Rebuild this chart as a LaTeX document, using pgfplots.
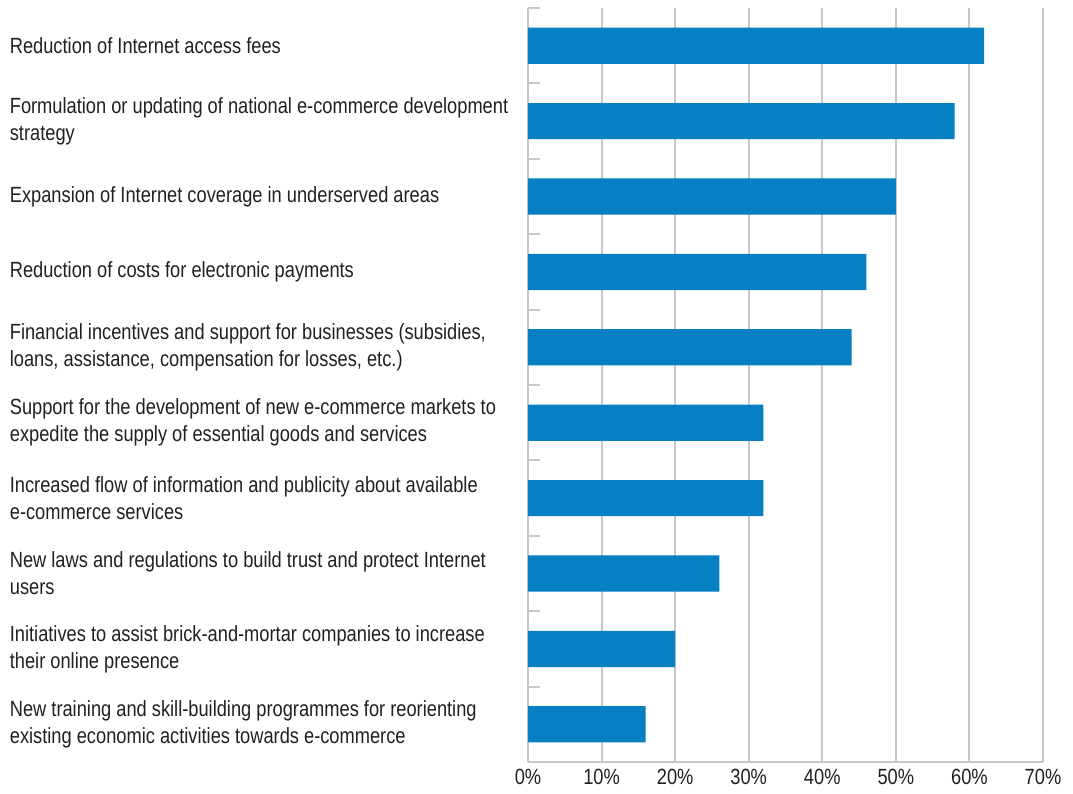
\documentclass[border=0pt]{standalone}
\usepackage{pgfplots}
\pgfplotsset{compat=1.18}
\usepackage{fontspec}
\setmainfont[FakeStretch=0.83]{Liberation Sans}
\definecolor{barblue}{HTML}{0680C3}
\definecolor{gridgray}{HTML}{C8C8C8}
\definecolor{txt}{HTML}{231F20}
\begin{document}
\begin{tikzpicture}
\useasboundingbox (0,0) rectangle (536.5pt,-397pt);
\begin{axis}[
  at={(264pt,-381pt)}, anchor=south west,
  width=257.5pt, height=377pt, scale only axis,
  xmin=0, xmax=70, ymin=-0.5, ymax=9.5,
  axis x line*=bottom, axis y line*=left,
  axis line style={gridgray, line width=1pt},
  xtick={0,10,...,70},
  xticklabels={0\%,10\%,20\%,30\%,40\%,50\%,60\%,70\%},
  xmajorgrids, grid style={gridgray, line width=1pt},
  major x tick style={draw=none},
  ytick={0,...,9},
  major y tick style={draw=none},
  yticklabels={
    {New training and skill-building programmes for reorienting\\existing economic activities towards e-commerce},
    {Initiatives to assist brick-and-mortar companies to increase\\their online presence},
    {New laws and regulations to build trust and protect Internet\\users},
    {Increased flow of information and publicity about available\\e-commerce services},
    {Support for the development of new e-commerce markets to\\expedite the supply of essential goods and services},
    {Financial incentives and support for businesses (subsidies,\\loans, assistance, compensation for losses, etc.)},
    {Reduction of costs for electronic payments},
    {Expansion of Internet coverage in underserved areas},
    {Formulation or updating of national e-commerce development\\strategy},
    {Reduction of Internet access fees}},
  yticklabel style={anchor=west, align=left, xshift=-255pt, font=\fontsize{11}{13.5}\selectfont, text=txt, inner xsep=0pt},
  xticklabel style={font=\fontsize{11}{13.5}\selectfont, text=txt},
  xbar, bar width=0.48,
  clip=false,
]
\addplot[fill=barblue, draw=none] coordinates {
  (16,0) (20,1) (26,2) (32,3) (32,4) (44,5) (46,6) (50,7) (58,8) (62,9)};
\pgfplotsinvokeforeach{-0.5,0.5,...,9.5}{
  \draw[gridgray, line width=1pt] (axis cs:0,#1) -- ([xshift=6pt]axis cs:0,#1);
}
\end{axis}
\node[anchor=base west, inner sep=0pt, text=txt, font=\fontsize{11}{13.5}\selectfont] at (5pt,-406pt) {Source: UNCTAD (2020)};
\end{tikzpicture}
\end{document}
